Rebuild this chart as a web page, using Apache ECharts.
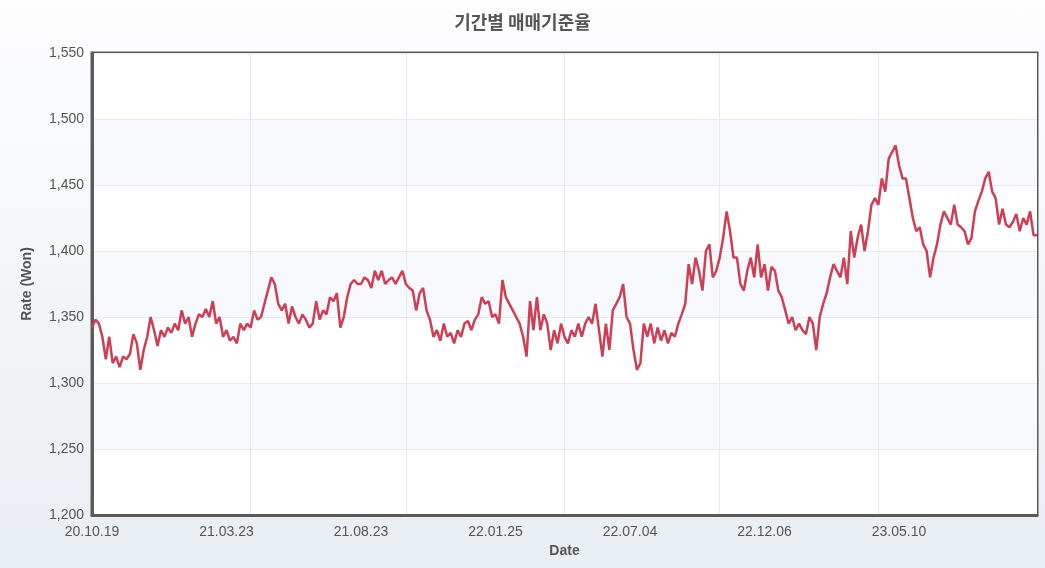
<!DOCTYPE html>
<html>
<head>
<meta charset="utf-8">
<script src="https://cdn.jsdelivr.net/npm/echarts@6/dist/echarts.min.js"></script>
<style>
html, body { margin: 0; padding: 0; }
#main { width: 1045px; height: 568px; background: linear-gradient(#fdfdfe, #e9eef2); }
</style>
</head>
<body>
<div id="main"></div>
<script>
// 매매기준율 (원), 2020-10-19 부터
var rates = [1342,1348,1345,1335,1318,1335,1315,1320,1312,1320,1318,1322,1337,1330,1310,1325,1335,1350,1340,1328,
  1340,1335,1342,1338,1345,1340,1355,1345,1350,1335,1345,1352,1350,1356,1350,1362,1345,1350,1335,1340,
  1332,1335,1330,1345,1340,1345,1342,1355,1348,1350,1360,1370,1380,1375,1360,1355,1360,1345,1358,1350,
  1345,1352,1348,1342,1345,1362,1348,1355,1352,1365,1362,1368,1342,1350,1365,1375,1378,1375,1375,1380,
  1378,1372,1385,1378,1385,1375,1378,1380,1375,1380,1385,1375,1372,1370,1355,1368,1372,1355,1348,1335,
  1340,1332,1345,1335,1338,1330,1340,1335,1345,1347,1340,1348,1352,1365,1360,1362,1350,1352,1345,1378,
  1365,1360,1355,1350,1345,1335,1320,1362,1340,1365,1340,1352,1345,1325,1340,1330,1345,1335,1330,1340,
  1335,1345,1335,1345,1350,1345,1360,1340,1320,1345,1325,1355,1360,1365,1375,1350,1345,1325,1310,1315,
  1345,1335,1345,1330,1342,1332,1340,1330,1338,1335,1345,1352,1360,1390,1375,1395,1385,1370,1400,1405,
  1380,1385,1395,1410,1430,1415,1395,1395,1375,1370,1385,1395,1380,1405,1380,1390,1370,1388,1385,1370,
  1365,1355,1345,1350,1340,1345,1340,1337,1350,1345,1325,1350,1360,1368,1380,1390,1385,1380,1395,1375,
  1415,1395,1410,1420,1400,1415,1435,1440,1435,1455,1445,1470,1475,1480,1465,1455,1455,1440,1425,1415,
  1418,1405,1400,1380,1395,1405,1420,1430,1425,1420,1435,1420,1418,1415,1405,1410,1430,1438,1445,1455,
  1460,1445,1440,1420,1432,1420,1418,1422,1428,1415,1425,1420,1430,1412,1412];
var tickLabels = ['20.10.19', '21.03.23', '21.08.23', '22.01.25', '22.07.04', '22.12.06', '23.05.10'];

var n = rates.length;
var categories = rates.map(function (v, i) { return String(i); });
// 라벨과 세로 격자선은 간격이 다름
var labelIdx = tickLabels.map(function (t, k) { return Math.round(k * 134.5 / 945 * (n - 1)); });
var gridIdx = [];
for (var k = 1; k < 6; k++) gridIdx.push(Math.round(k * 157 / 945 * (n - 1)));

var myChart = echarts.init(document.getElementById('main'));
var option = {
    title: {
        text: '기간별 매매기준율',
        left: 'center',
        top: 8,
        textStyle: { color: '#555', fontSize: 18, fontWeight: 'bold', fontFamily: 'Noto Sans CJK KR' }
    },
    grid: { left: 92, right: 8, top: 53, bottom: 53, show: true, borderColor: '#5a5a5a', borderWidth: 3 },
    xAxis: {
        type: 'category',
        data: categories,
        boundaryGap: false,
        name: 'Date',
        nameLocation: 'middle',
        nameGap: 24,
        nameTextStyle: { color: '#555', fontWeight: 'bold', fontSize: 14 },
        axisLine: { lineStyle: { color: '#5a5a5a', width: 3 } },
        axisTick: { show: false },
        axisLabel: {
            color: '#555', fontSize: 14, margin: 10,
            interval: function (i) { return labelIdx.indexOf(i) >= 0; },
            formatter: function (v, i) { var p = labelIdx.indexOf(i); return p >= 0 ? tickLabels[p] : ''; }
        },
        splitLine: {
            show: true,
            interval: function (i) { return gridIdx.indexOf(i) >= 0; },
            lineStyle: { color: '#e6eaee' }
        }
    },
    yAxis: {
        type: 'value',
        min: 1200,
        max: 1550,
        interval: 50,
        name: 'Rate (Won)',
        nameLocation: 'middle',
        nameGap: 58,
        nameTextStyle: { color: '#555', fontWeight: 'bold', fontSize: 14 },
        axisLine: { show: true, lineStyle: { color: '#5a5a5a', width: 3 } },
        axisLabel: { color: '#555', fontSize: 14, formatter: function (v) { return v.toLocaleString('en-US'); } },
        splitLine: { lineStyle: { color: '#e6eaee' } },
        splitArea: { show: true, areaStyle: { color: ['#ffffff', '#f7f9fc'] } }
    },
    series: [{
        type: 'line',
        data: rates,
        showSymbol: false,
        lineStyle: { color: '#cc3f55', width: 2.5 },
        itemStyle: { color: '#cc3f55' }
    }]
};
myChart.setOption(option);
</script>
</body>
</html>
